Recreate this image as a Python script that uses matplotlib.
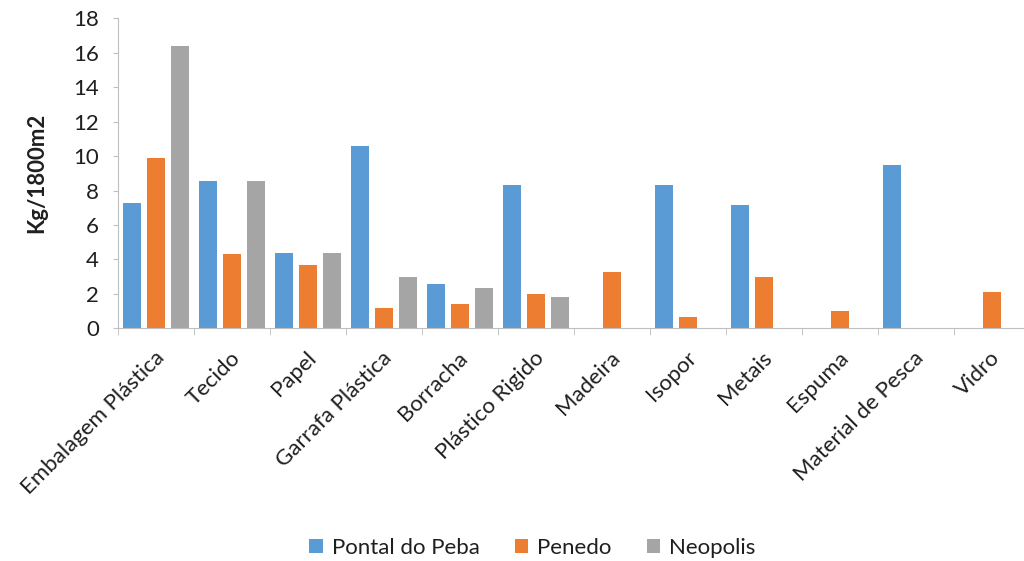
import matplotlib
matplotlib.use("Agg")
import matplotlib.pyplot as plt
import matplotlib.transforms as mtransforms
import numpy as np

# Waste categories and mass per site (kg per 1800 m2)
categorias = ["Embalagem Plástica", "Tecido", "Papel", "Garrafa Plástica",
              "Borracha", "Plástico Rigido", "Madeira", "Isopor", "Metais",
              "Espuma", "Material de Pesca", "Vidro"]
pontal_do_peba = [7.3, 8.55, 4.4, 10.6, 2.55, 8.3, 0, 8.3, 7.15, 0, 9.5, 0]
penedo = [9.9, 4.3, 3.7, 1.2, 1.4, 2.0, 3.25, 0.65, 3.0, 1.0, 0, 2.1]
neopolis = [16.4, 8.55, 4.4, 3.0, 2.35, 1.8, 0, 0, 0, 0, 0, 0]

series = [("Pontal do Peba", pontal_do_peba, "#5B9BD5"),
          ("Penedo", penedo, "#ED7D31"),
          ("Neopolis", neopolis, "#A5A5A5")]

plt.rcParams["font.family"] = ["Lato", "DejaVu Sans"]
cor_texto = "#1F1F1F"

fig = plt.figure(figsize=(10.24, 5.61), dpi=100)
# the last category runs a little past the right edge of the figure
ax = fig.add_axes([0.1152, 0.4148, 0.8906, 0.5526])

x = np.arange(len(categorias))
largura = 0.24
passo = 0.315
for i, (nome, valores, cor) in enumerate(series):
    ax.bar(x + (i - 1) * passo, valores, width=largura, color=cor, label=nome)

ax.set_xlim(-0.5, len(categorias) - 0.5)
ax.set_ylim(0, 18)
ax.set_yticks(range(0, 19, 2))
ax.tick_params(axis="y", labelsize=16, length=3.6, color="#BFBFBF", pad=10,
               labelcolor=cor_texto)

ax.set_xticks(x)
ax.set_xticklabels(categorias, rotation=45, ha="right", va="center",
                   rotation_mode="anchor", fontsize=16, color=cor_texto)
ax.tick_params(axis="x", which="major", length=0, pad=19)
desloc = mtransforms.ScaledTranslation(0.05, 0, fig.dpi_scale_trans)
for rotulo in ax.get_xticklabels():
    rotulo.set_transform(rotulo.get_transform() + desloc)
ax.set_xticks(np.arange(-0.5, len(categorias)), minor=True)
ax.tick_params(axis="x", which="minor", length=5, color="#BFBFBF")

for lado in ["top", "right"]:
    ax.spines[lado].set_visible(False)
for lado in ["left", "bottom"]:
    ax.spines[lado].set_color("#BFBFBF")

ax.set_ylabel("Kg/1800m2", fontsize=16, fontweight="bold", color=cor_texto)
ax.yaxis.set_label_coords(-0.078, 0.5)

fig.legend(loc="center", bbox_to_anchor=(0.52, 0.023), ncol=3, frameon=False,
           fontsize=16, handlelength=0.6, handleheight=0.6, handletextpad=0.4,
           columnspacing=1.6, labelcolor=cor_texto)

fig.savefig("out.png", dpi=100)
